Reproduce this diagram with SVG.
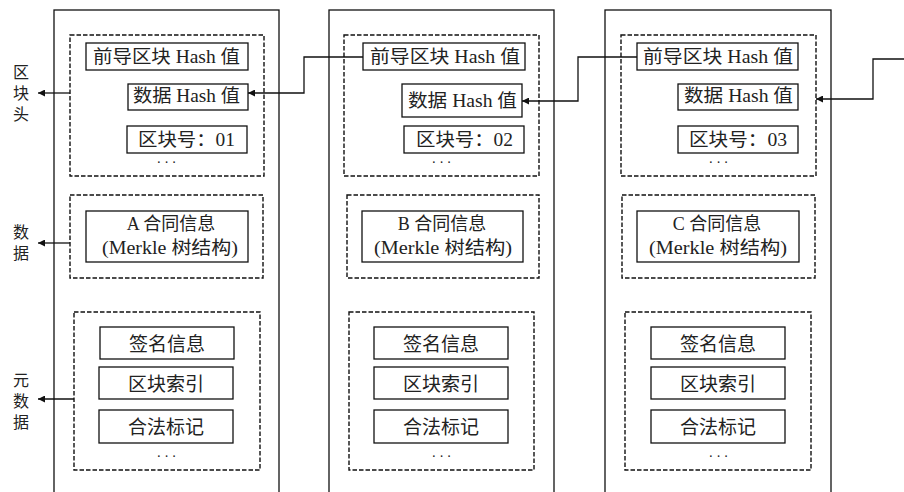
<svg xmlns="http://www.w3.org/2000/svg" width="904" height="492" viewBox="0 0 904 492">
<defs>
<style>
.outer{fill:#fff;stroke:#111;stroke-width:1.3}
.dash{fill:none;stroke:#111;stroke-width:1.4;stroke-dasharray:4.5 2}
.box{fill:#fff;stroke:#111;stroke-width:1.3}
.t{font-family:'Liberation Serif','Noto Sans CJK SC',serif;font-size:18px;fill:#222;text-anchor:middle;dominant-baseline:central}
.m{font-size:19px}
.lab{font-family:'Noto Sans CJK SC',sans-serif;font-size:16px;fill:#222;text-anchor:middle;writing-mode:vertical-rl;letter-spacing:5px}
.dots{font-family:'Liberation Serif',serif;font-size:14px;fill:#222;text-anchor:middle;letter-spacing:3px}
.ln{fill:none;stroke:#111;stroke-width:1.3}
</style>
<marker id="ah" viewBox="0 0 10 10" refX="10" refY="5" markerWidth="8" markerHeight="7" markerUnits="userSpaceOnUse" orient="auto">
<path d="M0,0 L10,5 L0,10 z" fill="#111"/>
</marker>
</defs>
<rect width="904" height="492" fill="#fff"/>

<!-- Block 1 -->
<g id="block1">
<rect class="outer" x="54" y="10" width="225" height="500"/>
<g id="b1-header">
<rect class="dash" x="70" y="35" width="194" height="141"/>
<rect class="box" x="86" y="43" width="162" height="27"/>
<text class="t" x="166.5" y="57" textLength="147" lengthAdjust="spacingAndGlyphs">前导区块 Hash 值</text>
<rect class="box" x="128" y="84" width="120" height="26"/>
<text class="t" x="186.5" y="96" textLength="107" lengthAdjust="spacingAndGlyphs">数据 Hash 值</text>
<rect class="box" x="127" y="126" width="120" height="27"/>
<text class="t" x="186.5" y="140" textLength="97" lengthAdjust="spacingAndGlyphs">区块号：01</text>
<text class="dots" x="168" y="167">···</text>
</g>
<g id="b1-data">
<rect class="dash" x="70" y="195" width="193" height="83"/>
<rect class="box" x="86" y="211" width="162" height="51"/>
<text class="t" x="171" y="224">A 合同信息</text>
<text class="t" x="170" y="248" textLength="136" lengthAdjust="spacingAndGlyphs">(Merkle 树结构)</text>
</g>
<g id="b1-meta">
<rect class="dash" x="74" y="312" width="186" height="158"/>
<rect class="box" x="100" y="327" width="134" height="32"/>
<text class="t m" x="167" y="344">签名信息</text>
<rect class="box" x="99" y="367" width="134" height="32"/>
<text class="t m" x="166" y="384">区块索引</text>
<rect class="box" x="99" y="410" width="134" height="33"/>
<text class="t m" x="166" y="427">合法标记</text>
<text class="dots" x="168" y="461">···</text>
</g>
</g>

<!-- Block 2 -->
<g id="block2">
<rect class="outer" x="329" y="10" width="225" height="500"/>
<g id="b2-header">
<rect class="dash" x="344" y="35" width="195" height="141"/>
<rect class="box" x="363" y="43" width="162" height="27"/>
<text class="t" x="445" y="57" textLength="150" lengthAdjust="spacingAndGlyphs">前导区块 Hash 值</text>
<rect class="box" x="402" y="84" width="120" height="33"/>
<text class="t" x="462.5" y="101" textLength="109" lengthAdjust="spacingAndGlyphs">数据 Hash 值</text>
<rect class="box" x="404" y="126" width="120" height="27"/>
<text class="t" x="464.5" y="140" textLength="97" lengthAdjust="spacingAndGlyphs">区块号：02</text>
<text class="dots" x="443" y="167">···</text>
</g>
<g id="b2-data">
<rect class="dash" x="347" y="195" width="192" height="83"/>
<rect class="box" x="362" y="211" width="161" height="51"/>
<text class="t" x="442" y="224">B 合同信息</text>
<text class="t" x="443" y="248" textLength="138" lengthAdjust="spacingAndGlyphs">(Merkle 树结构)</text>
</g>
<g id="b2-meta">
<rect class="dash" x="349" y="312" width="185" height="158"/>
<rect class="box" x="374" y="327" width="134" height="32"/>
<text class="t m" x="441" y="344">签名信息</text>
<rect class="box" x="374" y="367" width="134" height="32"/>
<text class="t m" x="441" y="384">区块索引</text>
<rect class="box" x="374" y="410" width="134" height="33"/>
<text class="t m" x="441" y="427">合法标记</text>
<text class="dots" x="443" y="461">···</text>
</g>
</g>

<!-- Block 3 -->
<g id="block3">
<rect class="outer" x="605" y="10" width="226" height="500"/>
<g id="b3-header">
<rect class="dash" x="621" y="35" width="195" height="141"/>
<rect class="box" x="637" y="43" width="161" height="27"/>
<text class="t" x="718" y="57" textLength="150" lengthAdjust="spacingAndGlyphs">前导区块 Hash 值</text>
<rect class="box" x="678" y="84" width="120" height="26"/>
<text class="t" x="738.5" y="96" textLength="109" lengthAdjust="spacingAndGlyphs">数据 Hash 值</text>
<rect class="box" x="678" y="126" width="120" height="27"/>
<text class="t" x="738" y="140" textLength="98" lengthAdjust="spacingAndGlyphs">区块号：03</text>
<text class="dots" x="720" y="167">···</text>
</g>
<g id="b3-data">
<rect class="dash" x="622" y="195" width="193" height="83"/>
<rect class="box" x="637" y="211" width="162" height="51"/>
<text class="t" x="717" y="224">C 合同信息</text>
<text class="t" x="718" y="248" textLength="138" lengthAdjust="spacingAndGlyphs">(Merkle 树结构)</text>
</g>
<g id="b3-meta">
<rect class="dash" x="625" y="312" width="186" height="158"/>
<rect class="box" x="651" y="327" width="134" height="32"/>
<text class="t m" x="718" y="344">签名信息</text>
<rect class="box" x="651" y="367" width="134" height="32"/>
<text class="t m" x="718" y="384">区块索引</text>
<rect class="box" x="651" y="410" width="134" height="33"/>
<text class="t m" x="718" y="427">合法标记</text>
<text class="dots" x="720" y="461">···</text>
</g>
</g>

<!-- Side labels -->
<g id="label-header"><text class="lab" x="21" y="95">区块头</text></g>
<g id="label-data"><text class="lab" x="21" y="245">数据</text></g>
<g id="label-meta"><text class="lab" x="21" y="403">元数据</text></g>

<!-- Connectors -->
<g id="connectors">
<path class="ln" d="M70,93 H38" marker-end="url(#ah)"/>
<path class="ln" d="M70,243 H38" marker-end="url(#ah)"/>
<path class="ln" d="M74,399 H38" marker-end="url(#ah)"/>
<path class="ln" d="M363,57 H304 V93 H248" marker-end="url(#ah)"/>
<path class="ln" d="M637,57 H578 V101 H522" marker-end="url(#ah)"/>
<path class="ln" d="M904,59 H873 V99 H816" marker-end="url(#ah)"/>
</g>
</svg>
